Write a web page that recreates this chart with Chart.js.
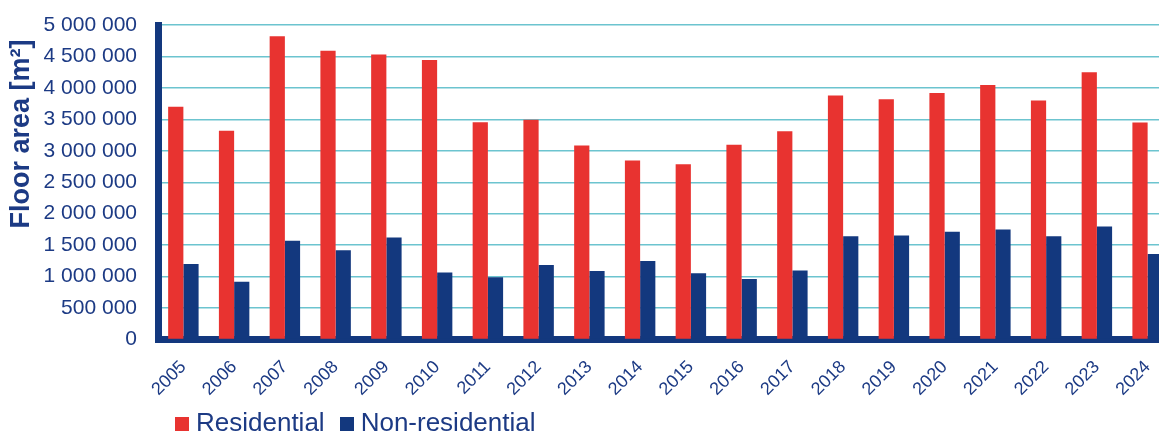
<!DOCTYPE html>
<html>
<head>
<meta charset="utf-8">
<script src="https://cdn.jsdelivr.net/npm/chart.js@4"></script>
<style>
    html, body { margin: 0; padding: 0; background: #fff; overflow: hidden; }
    #wrap { position: relative; width: 1175px; height: 432px; }
    #legenda {
        position: absolute; left: 175px; top: 407px;
        display: flex; align-items: center;
        font-family: "Liberation Sans", Arial, sans-serif; font-size: 26px; color: #1c3a84;
    }
    #legenda span.box { display: inline-block; width: 14px; height: 14px; margin-right: 7px; margin-top: 3px; }
    #legenda .item { display: flex; align-items: center; margin-right: 15px; }
</style>
</head>
<body>
<div id="wrap">
    <canvas id="grafico-area" width="1175" height="432"></canvas>
    <div id="legenda">
        <div class="item"><span class="box" style="background:#e83330"></span>Residential</div>
        <div class="item"><span class="box" style="background:#13387e"></span>Non-residential</div>
    </div>
</div>
<script>
// Dados
const anos = ["2005", "2006", "2007", "2008", "2009", "2010", "2011", "2012", "2013", "2014",
    "2015", "2016", "2017", "2018", "2019", "2020", "2021", "2022", "2023", "2024"];
const residencial = [3700000, 3320000, 4820000, 4590000, 4530000, 4445000, 3455000, 3495000, 3085000, 2845000,
    2785000, 3095000, 3310000, 3880000, 3820000, 3920000, 4045000, 3800000, 4250000, 3450000];
const naoResidencial = [1200000, 920000, 1570000, 1420000, 1620000, 1065000, 990000, 1185000, 1090000, 1250000,
    1055000, 960000, 1095000, 1640000, 1655000, 1715000, 1750000, 1640000, 1795000, 1360000];
const tituloY = "Floor area [m²]";

const azulTexto = "#1c3a84";

// titulo do eixo y desenhado à parte (fica mais pra cima que o centro)
const tituloEixoY = {
    id: "tituloEixoY",
    afterDraw(chart) {
        const ctx = chart.ctx;
        ctx.save();
        ctx.translate(22, 134);
        ctx.rotate(-Math.PI / 2);
        ctx.font = "bold 27px 'Liberation Sans', Arial, sans-serif";
        ctx.fillStyle = azulTexto;
        ctx.textAlign = "center";
        ctx.textBaseline = "middle";
        ctx.fillText(tituloY, 0, 0);
        ctx.restore();
    }
};

let myChartArea = new Chart(
    document.getElementById("grafico-area"),
    {
        type: "bar",
        data: {
            labels: anos,
            datasets: [
                {
                    label: "Residential",
                    data: residencial,
                    backgroundColor: "#e83330",
                    categoryPercentage: 0.6,
                    barPercentage: 1.0
                },
                {
                    label: "Non-residential",
                    data: naoResidencial,
                    backgroundColor: "#13387e",
                    categoryPercentage: 0.6,
                    barPercentage: 1.0
                }
            ]
        },
        options: {
            responsive: false,
            animation: false,
            devicePixelRatio: 1,
            layout: { autoPadding: false, padding: { top: 25, right: 2, bottom: 0, left: 0 } },
            scales: {
                x: {
                    grid: { display: false },
                    border: { display: true, color: "#13387e", width: 7 },
                    ticks: {
                        color: azulTexto,
                        font: { family: "'Liberation Sans', Arial, sans-serif", size: 18 },
                        minRotation: 45,
                        maxRotation: 45,
                        autoSkip: false,
                        padding: 9
                    },
                    afterFit(scale) {
                        scale.height = 92.5
                        scale.paddingLeft = 0
                        scale.paddingRight = 0
                    }
                },
                y: {
                    min: 0,
                    max: 5000000,
                    grid: { color: "#6cc4cf", lineWidth: 1.5, drawTicks: false },
                    border: { display: true, color: "#13387e", width: 7 },
                    ticks: {
                        stepSize: 500000,
                        color: azulTexto,
                        padding: 21,
                        font: { family: "'Liberation Sans', Arial, sans-serif", size: 21 },
                        callback: (v) => v.toString().replace(/\B(?=(\d{3})+(?!\d))/g, " ")
                    },
                    afterFit(scale) {
                        // sem isso o padding dos ticks empurra a área do gráfico pra baixo
                        scale.width = 158
                        scale.paddingTop = 0
                        scale.paddingBottom = 0
                    }
                }
            },
            plugins: {
                legend: { display: false },
                tooltip: { enabled: false }
            }
        },
        plugins: [tituloEixoY]
    }
);
</script>
</body>
</html>
